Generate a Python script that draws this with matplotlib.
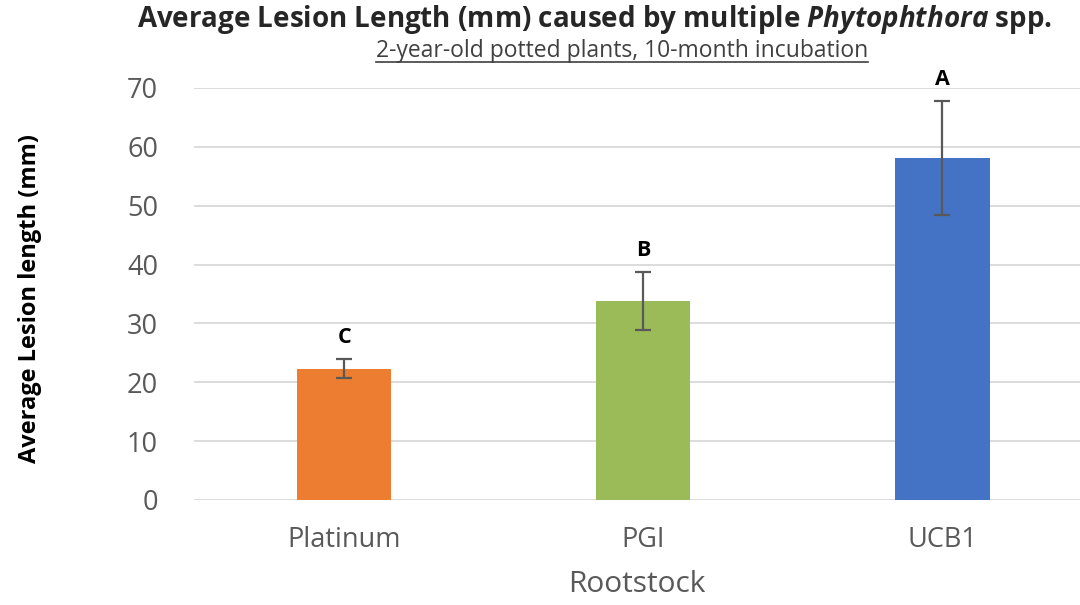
import matplotlib.pyplot as plt
from matplotlib.lines import Line2D

plt.rcParams['font.family'] = ['Open Sans', 'DejaVu Sans']
plt.rcParams['mathtext.fontset'] = 'custom'
plt.rcParams['mathtext.it'] = 'Open Sans:italic:bold'

# Data
rootstocks = ['Platinum', 'PGI', 'UCB1']
lesion_mean = [22.3, 33.8, 58.1]
lesion_err = [1.6, 4.9, 9.7]
letters = ['C', 'B', 'A']
colors = ['#ED7D31', '#9BBB59', '#4472C4']

fig = plt.figure(figsize=(10.8, 6.05), dpi=100)
ax = fig.add_axes([194 / 1080, 105 / 605, (1080 - 194) / 1080, 412 / 605])

x = list(range(len(rootstocks)))
ax.bar(x, lesion_mean, width=0.315, color=colors, zorder=2)
ax.errorbar(x, lesion_mean, yerr=lesion_err, fmt='none', ecolor='#595959',
            elinewidth=1.6, capsize=6, capthick=1.6, zorder=3)

for xi, m, e, lab in zip(x, lesion_mean, lesion_err, letters):
    ax.annotate(lab, (xi, m + e), xytext=(0, 8), textcoords='offset points',
                ha='center', va='bottom', fontsize=15.5, fontweight='bold')

ax.set_xlim(-0.502, 2.46)
ax.set_ylim(0, 70)
ax.set_yticks(range(0, 71, 10))
ax.yaxis.grid(True, color='#D9D9D9', linewidth=1.3, zorder=0)
ax.set_axisbelow(True)
for s in ax.spines.values():
    s.set_visible(False)
ax.tick_params(axis='both', length=0, labelsize=19.5, labelcolor='#595959')
ax.tick_params(axis='y', pad=26)
ax.tick_params(axis='x', pad=19)
ax.set_xticks(x)
ax.set_xticklabels(rootstocks)

ax.set_xlabel('Rootstock', fontsize=21.5, color='#595959', labelpad=11)
fig.text(30 / 1080, 1 - 299 / 605, 'Average Lesion length (mm)', rotation=90,
         ha='center', va='center', fontsize=17, fontweight='bold')

fig.text(595 / 1080, 1 - 20 / 605,
         r'Average Lesion Length (mm) caused by multiple $\mathit{Phytophthora}$ spp.',
         ha='center', va='center', fontsize=20, fontweight='bold', color='#262626')
sub = fig.text(622 / 1080, 1 - 51 / 605, '2-year-old potted plants, 10-month incubation',
               ha='center', va='center', fontsize=16.5, color='#404040')

# underline the subtitle
fig.canvas.draw()
bb = sub.get_window_extent().transformed(fig.transFigure.inverted())
fig.add_artist(Line2D([bb.x0, bb.x1], [bb.y0 + 0.002, bb.y0 + 0.002],
                      transform=fig.transFigure, color='#404040', linewidth=1.2))

fig.savefig('out.png', dpi=100)
